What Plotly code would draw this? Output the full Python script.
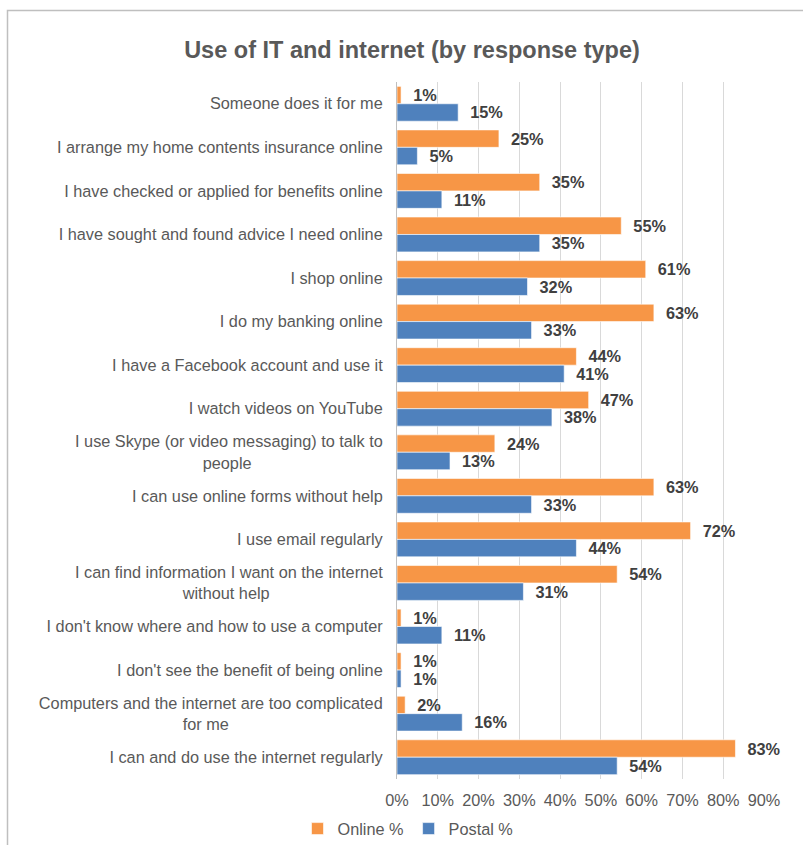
import plotly.graph_objects as go

NB = "\u00a0"

# Survey statements, listed top to bottom as they appear on the chart
categories = [
    "Someone does it for me",
    "I arrange my home contents insurance online",
    "I have checked or applied for benefits online",
    "I have sought and found advice I need online",
    "I shop online",
    "I do my banking online",
    "I have a Facebook account and use it",
    "I watch videos on YouTube",
    "I use Skype (or video messaging) to talk to<br>people" + NB * 29,
    "I can use online forms without help",
    "I use email regularly",
    "I can find information I want on the internet<br>without help" + NB * 25,
    "I don't know where and how to use a computer",
    "I don't see the benefit of being online",
    "Computers and the internet are too complicated<br>for me" + NB * 34,
    "I can and do use the internet regularly",
]

online_pct = [1, 25, 35, 55, 61, 63, 44, 47, 24, 63, 72, 54, 1, 1, 2, 83]
postal_pct = [15, 5, 11, 35, 32, 33, 41, 38, 13, 33, 44, 31, 11, 1, 16, 54]

x_ticks = [0, 10, 20, 30, 40, 50, 60, 70, 80, 90]

ORANGE = "#F79646"
BLUE = "#4F81BD"
GREY_TEXT = "#595959"
LABEL_TEXT = "#404040"
FONT = "Liberation Sans, Arial, sans-serif"
FS = 16.3

fig = go.Figure()
for name, vals, color in [("Online %", online_pct, ORANGE), ("Postal %", postal_pct, BLUE)]:
    fig.add_trace(go.Bar(
        name=name,
        y=categories,
        x=vals,
        orientation="h",
        marker=dict(color=color, line=dict(color="white", width=0.6)),
        text=[f"{NB}{NB}{v}%" for v in vals],
        textposition="outside",
        textfont=dict(family=FONT, size=FS, color=LABEL_TEXT, weight="bold"),
        constraintext="none",
        cliponaxis=False,
        hoverinfo="skip",
    ))

# plot area in pixels
W, H = 803, 845
L, R, T, B = 397, 39, 82, 66
pw, ph = W - L - R, H - T - B


def px_x(x):
    return (x - L) / pw


def px_y(y):
    return (H - B - y) / ph


fig.update_layout(
    width=W,
    height=H,
    margin=dict(l=L, r=R, t=T, b=B, autoexpand=False),
    paper_bgcolor="white",
    plot_bgcolor="white",
    barmode="group",
    bargap=0.2,
    bargroupgap=0,
    font=dict(family=FONT, size=FS, color=GREY_TEXT),
    title=dict(
        text="<b>Use of IT and internet (by response type)</b>",
        font=dict(family=FONT, size=23.5, color=GREY_TEXT),
        x=412 / W,
        xanchor="center",
        xref="container",
        y=1 - 50 / H,
        yanchor="middle",
        yref="container",
    ),
    legend=dict(
        orientation="h",
        x=px_x(408),
        xanchor="center",
        y=px_y(829),
        yanchor="middle",
        font=dict(family=FONT, size=FS, color=GREY_TEXT),
        itemwidth=30,
        traceorder="normal",
    ),
    showlegend=True,
    shapes=[
        dict(
            type="rect",
            xref="paper",
            yref="paper",
            x0=px_x(7.5),
            x1=px_x(830),
            y0=px_y(870),
            y1=px_y(10.5),
            line=dict(color="#BFBFBF", width=1.5),
            fillcolor="rgba(0,0,0,0)",
            layer="below",
        )
    ],
)

fig.update_xaxes(
    range=[0, 90],
    tickvals=x_ticks,
    ticktext=[f"{t}%" for t in x_ticks],
    showgrid=True,
    gridcolor="#D9D9D9",
    gridwidth=1,
    zeroline=False,
    showline=False,
    ticks="",
    ticklabelstandoff=10,
    tickfont=dict(family=FONT, size=FS, color=GREY_TEXT),
)

fig.update_yaxes(
    autorange="reversed",
    showgrid=False,
    showline=True,
    linecolor="#BFBFBF",
    linewidth=1,
    ticks="",
    ticklabelstandoff=10,
    tickfont=dict(family=FONT, size=FS, color=GREY_TEXT),
)

fig.write_html("out.html")
